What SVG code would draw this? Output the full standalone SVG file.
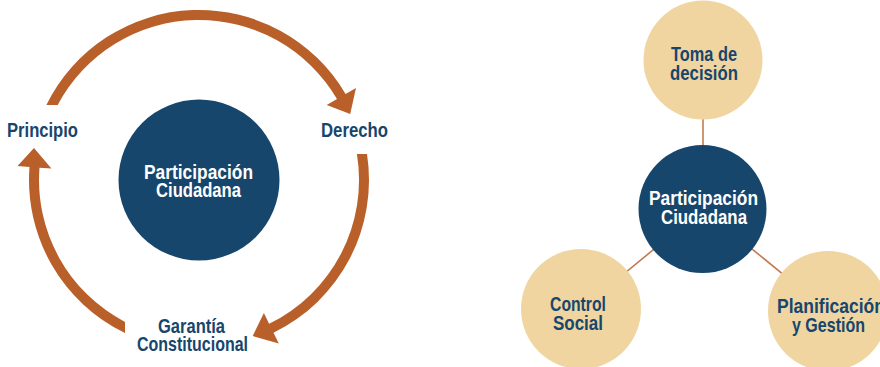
<svg xmlns="http://www.w3.org/2000/svg" width="880" height="367" viewBox="0 0 880 367">
<style>
.lbl{font-family:"Liberation Sans Narrow","Liberation Sans",Arial,sans-serif;font-weight:bold;font-size:21px;fill:#17466D;text-anchor:middle}
.wt{fill:#FFFFFF}
.arc{fill:#B9602A}
.navy{fill:#17466D}
.beige{fill:#F0D5A0}
.con{stroke:#C47A4E;stroke-width:1.6;fill:none}
</style>
<rect width="880" height="367" fill="#FFFFFF"/>
<g id="cycle-arrows">
<path class="arc" d="M 46.4,105 A 170 170 0 0 1 345.6,94 L 356,87.9 L 350.2,113.9 L 326.7,105.1 L 337,99 A 160 160 0 0 0 57.7,105 Z"/>
<path class="arc" d="M 367,154 A 170 170 0 0 1 273.5,332.8 L 278.8,343.6 L 252.7,336 L 263.9,313 L 269.1,323.8 A 160 160 0 0 0 356.9,154 Z"/>
<path class="arc" d="M 125,333 A 170 170 0 0 1 29.5,167 L 17.5,166 L 34,148 L 51.4,168.6 L 39.5,167.7 A 160 160 0 0 0 125,321.9 Z"/>
</g>
<g id="left-center">
<circle class="navy" cx="199" cy="180" r="80.5"/>
<text class="lbl wt" x="198.5" y="179" textLength="109" lengthAdjust="spacingAndGlyphs">Participación</text>
<text class="lbl wt" x="198.5" y="197" textLength="85" lengthAdjust="spacingAndGlyphs">Ciudadana</text>
</g>
<g id="principio">
<text class="lbl" x="42.5" y="137" textLength="71" lengthAdjust="spacingAndGlyphs">Principio</text>
</g>
<g id="derecho">
<text class="lbl" x="354.5" y="137" textLength="67" lengthAdjust="spacingAndGlyphs">Derecho</text>
</g>
<g id="garantia">
<text class="lbl" x="191.5" y="332.5" textLength="67" lengthAdjust="spacingAndGlyphs">Garantía</text>
<text class="lbl" x="192.5" y="351" textLength="111" lengthAdjust="spacingAndGlyphs">Constitucional</text>
</g>
<g id="connectors">
<line class="con" x1="703" y1="209" x2="703" y2="60"/>
<line class="con" x1="703" y1="209" x2="581" y2="309"/>
<line class="con" x1="703" y1="209" x2="828" y2="311"/>
</g>
<g id="toma">
<circle class="beige" cx="703" cy="60" r="59.5"/>
<text class="lbl" x="704" y="61" textLength="66" lengthAdjust="spacingAndGlyphs">Toma de</text>
<text class="lbl" x="704" y="79.5" textLength="68" lengthAdjust="spacingAndGlyphs">decisión</text>
</g>
<g id="right-center">
<circle class="navy" cx="702.5" cy="209" r="64"/>
<text class="lbl wt" x="703.5" y="205" textLength="109" lengthAdjust="spacingAndGlyphs">Participación</text>
<text class="lbl wt" x="704" y="224" textLength="86" lengthAdjust="spacingAndGlyphs">Ciudadana</text>
</g>
<g id="control">
<circle class="beige" cx="581" cy="309" r="60"/>
<text class="lbl" x="578" y="311" textLength="56" lengthAdjust="spacingAndGlyphs">Control</text>
<text class="lbl" x="578" y="329.5" textLength="50" lengthAdjust="spacingAndGlyphs">Social</text>
</g>
<g id="planificacion">
<circle class="beige" cx="828" cy="311" r="60"/>
<text class="lbl" x="831" y="312.5" textLength="108" lengthAdjust="spacingAndGlyphs">Planificación</text>
<text class="lbl" x="828.5" y="331.5" textLength="73" lengthAdjust="spacingAndGlyphs">y Gestión</text>
</g>
</svg>
